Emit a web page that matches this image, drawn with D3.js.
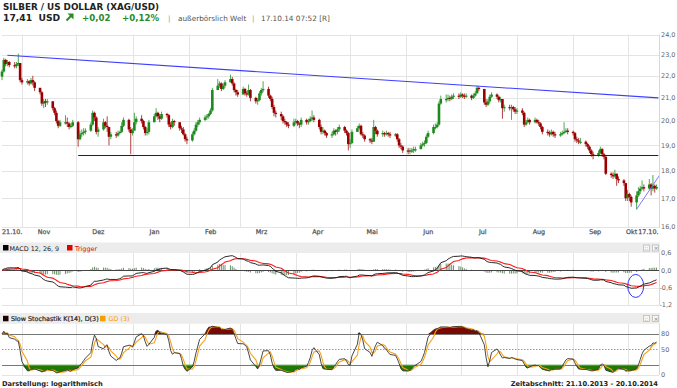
<!DOCTYPE html>
<html><head><meta charset="utf-8">
<script src="https://cdn.jsdelivr.net/npm/d3@7"></script>
<style>
body{margin:0;background:#fff;}
svg{display:block;font-family:"DejaVu Sans",Verdana,sans-serif;}
</style>
</head><body>
<svg id="c" width="677" height="388"></svg>
<script>
// ---------------- DATA ----------------
const title = "SILBER / US DOLLAR (XAG/USD)";
const lastPrice = "17,41", currency = "USD", change = "+0,02", changePct = "+0,12%";
const venue = "außerbörslich Welt", stamp = "17.10.14 07:52 [R]";
const firstOpen = 21.96;
// daily closes, Oct 21 2013 .. Oct 17 2014 (weekdays), one group per week
const closes = [
22.20,22.75,22.55,22.65,22.50, 22.45,22.55,22.60,21.80,21.70, 21.75,21.65,21.80,21.70,21.45, 21.25,20.75,20.85,20.80,20.85,
20.55,20.35,20.00,19.80,19.95, 19.95,19.90,19.75,19.80,19.95, 19.25,19.45,19.50,19.55,19.60, 19.85,20.35,20.15,19.55,19.65,
19.95,19.80,19.75,19.35,19.45, 19.40,19.50,19.55,19.80,20.05, 19.65,19.50,19.60,19.95,20.10, 20.00,19.75,19.50,19.55,19.95,
20.20,20.35,20.20,20.10,20.30, 20.25,19.85,19.75,20.00,19.95, 19.70,19.65,19.45,19.25,19.20, 19.45,19.60,19.85,19.95,20.05,
20.15,20.20,20.30,20.45,21.35, 21.55,21.65,21.40,21.55,21.70, 21.85,21.65,21.35,21.25,21.15, 21.40,21.20,21.15,21.35,21.00,
20.85,20.90,21.20,21.35,21.40, 21.10,20.95,20.60,20.35,20.30, 20.20,20.00,19.95,19.85,19.80, 19.95,20.00,19.90,19.85,20.05,
19.95,20.00,20.10,20.15,20.05, 19.75,19.55,19.60,19.50,19.40, 19.45,19.60,19.55,19.65,19.75, 19.60,19.50,19.05,19.10,19.55,
19.70,19.80,19.45,19.40,19.25, 19.20,19.15,19.75,19.60,19.45, 19.50,19.45,19.50,19.45,19.40, 19.45,19.25,19.00,18.95,18.80,
18.75,18.80,18.80,18.85,18.85, 19.00,19.05,19.10,19.35,19.50, 19.75,19.75,19.85,20.75,20.95, 20.95,21.00,20.95,21.05,21.10,
21.05,21.15,21.10,21.05,21.10, 21.00,21.10,21.20,21.45,21.40, 20.80,20.70,20.85,21.05,21.15, 21.05,20.90,20.95,20.55,20.60,
20.55,20.60,20.50,20.40,20.45, 20.35,19.85,19.95,20.05,19.95, 20.05,19.95,19.90,19.75,19.55, 19.50,19.45,19.55,19.45,19.40,
19.45,19.50,19.55,19.60,19.55, 19.50,19.25,19.20,19.15,19.15, 19.05,18.95,18.80,18.65,18.60, 18.70,18.85,18.65,18.55,17.90,
17.85,17.80,17.90,17.70,17.65, 17.55,17.00,17.15,17.05,16.85, 17.10,17.25,17.35,17.40,17.35, 17.50,17.35,17.45,17.35,17.41
];
const highs = [
22.30,22.85,22.80,22.75,22.70, 22.65,22.65,23.05,22.55,21.90, 21.85,21.80,21.90,22.00,21.75, 21.45,21.30,20.95,20.95,20.95,
20.85,20.60,20.45,20.05,20.05, 20.25,20.15,19.95,19.90,20.05, 20.00,19.60,19.65,19.70,19.70, 19.95,20.45,20.40,20.20,19.75,
20.10,20.00,20.20,19.75,19.55, 19.55,19.60,19.60,19.95,20.15, 20.10,19.75,19.70,20.35,20.20, 20.25,20.05,19.80,19.70,20.05,
20.30,20.55,20.40,20.30,20.40, 20.35,20.30,19.95,20.10,20.05, 19.95,19.80,19.75,19.50,19.35, 19.55,19.70,19.95,20.05,20.15,
20.25,20.30,20.35,20.55,21.45, 21.85,21.75,21.70,21.65,21.80, 22.05,21.95,21.70,21.40,21.35, 21.50,21.45,21.30,21.60,21.40,
21.05,21.00,21.30,21.45,21.75, 21.50,21.15,21.05,20.70,20.45, 20.40,20.25,20.10,20.00,19.95, 20.10,20.10,20.05,19.95,20.15,
20.10,20.10,20.20,20.45,20.25, 20.10,19.85,19.75,19.65,19.55, 19.55,19.70,19.65,19.75,19.85, 19.80,19.65,19.55,19.25,19.65,
19.80,19.90,19.85,19.55,19.45, 19.30,19.30,20.05,19.80,19.65, 19.60,19.55,19.60,19.55,19.55, 19.50,19.50,19.30,19.10,19.00,
18.90,18.90,18.90,18.95,18.95, 19.10,19.15,19.20,19.45,19.60, 19.85,19.90,19.95,20.85,21.10, 21.15,21.15,21.10,21.15,21.20,
21.20,21.25,21.20,21.20,21.20, 21.15,21.20,21.30,21.55,21.50, 21.40,20.95,20.95,21.15,21.25, 21.20,21.10,21.05,20.95,20.70,
20.70,20.70,20.65,20.60,20.55, 20.55,20.40,20.05,20.15,20.10, 20.15,20.10,20.05,19.95,19.80, 19.65,19.60,19.65,19.60,19.55,
19.55,19.60,19.95,19.70,19.70, 19.60,19.55,19.35,19.30,19.30, 19.20,19.10,19.00,18.85,18.75, 18.80,18.95,18.90,18.70,18.60,
17.95,17.95,18.05,17.90,17.80, 17.70,17.55,17.30,17.20,17.10, 17.25,17.40,17.45,17.65,17.50, 17.70,17.55,17.85,17.50,17.50
];
const lows = [
21.80,22.15,22.45,22.45,22.40, 22.35,22.35,22.45,21.70,21.60, 21.60,21.55,21.60,21.55,21.30, 21.15,20.65,20.55,20.60,20.70,
20.45,20.25,19.90,19.70,19.75, 19.85,19.75,19.65,19.70,19.75, 18.95,19.20,19.35,19.40,19.45, 19.55,19.80,20.00,19.45,19.35,
19.60,19.70,19.55,19.00,19.25, 19.30,19.35,19.45,19.50,19.75, 19.55,18.65,19.40,19.60,19.85, 19.90,19.65,19.40,19.40,19.45,
19.95,20.15,20.05,19.95,20.05, 20.15,19.75,19.65,19.70,19.80, 19.60,19.50,19.40,19.15,19.05, 19.15,19.40,19.55,19.75,19.85,
20.00,20.05,20.10,20.25,20.40, 21.35,21.45,21.30,21.35,21.45, 21.70,21.55,21.25,21.10,21.05, 21.15,21.10,21.05,21.10,20.85,
20.75,20.70,20.85,21.10,21.25, 21.00,20.85,20.50,20.20,20.15, 20.05,19.90,19.85,19.75,19.70, 19.75,19.85,19.80,19.70,19.75,
19.85,19.85,19.95,20.00,19.95, 19.65,19.45,19.45,19.40,19.30, 19.30,19.40,19.40,19.45,19.55, 19.50,19.40,18.80,18.90,19.05,
19.55,19.65,19.40,19.30,19.15, 19.10,19.05,19.15,19.45,19.35, 19.35,19.35,19.40,19.35,19.30, 19.35,19.15,18.90,18.85,18.70,
18.65,18.65,18.70,18.70,18.75, 18.85,18.95,18.95,19.05,19.30, 19.45,19.65,19.70,19.80,20.70, 20.80,20.85,20.85,20.90,20.95,
20.95,21.00,21.00,20.95,21.00, 20.90,20.95,21.05,21.20,21.30, 20.70,20.60,20.65,20.75,21.00, 20.95,20.80,20.80,20.10,20.40,
20.45,20.05,20.40,20.30,20.30, 20.25,19.75,19.80,19.90,19.85, 19.90,19.90,19.80,19.65,19.45, 19.40,19.35,19.40,19.35,19.30,
19.35,19.40,19.45,19.50,19.45, 19.40,19.15,19.10,19.05,19.05, 18.95,18.85,18.70,18.55,18.45, 18.55,18.65,18.55,18.45,17.85,
17.75,17.70,17.75,17.45,17.55, 17.45,16.90,16.90,16.90,16.70, 16.60,17.05,17.15,17.30,17.25, 17.30,17.10,17.25,17.20,17.30
];
const priceTicks = [16,17,18,19,20,21,22,23,24];
const macdTicks = [0.6,0,-0.6,-1.2];
const stochTicks = [80,50,0];
const monthLabels = ["Nov","Dez","Jan","Feb","Mrz","Apr","Mai","Jun","Jul","Aug","Sep","Okt"];
const startLabel = "21.10.", endLabel = "17.10.";
// annotation lines in data coordinates [date, price]
const resistance = [[new Date(2013,9,24), 22.97],[new Date(2014,9,18), 21.0]];
const support = [[new Date(2013,11,2), 18.6],[new Date(2014,9,18), 18.6]];
const upTrend = [[new Date(2014,9,6), 16.61],[new Date(2014,9,19), 17.88]];
const macdCircle = {date:new Date(2014,9,5,12), value:-0.54};

// ---------------- LAYOUT ----------------
const svg = d3.select("#c");
const PL = 2, PR = 659;
const dates = d3.timeDay.range(new Date(2013,9,21), new Date(2014,9,18)).filter(d => d.getDay()>0 && d.getDay()<6);
const x = d3.scaleTime().domain([new Date(2013,9,21), new Date(2014,9,20)]).range([2, 662]);
const y = d3.scaleLog().domain([16,24]).range([227, 34.5]);
const yM = d3.scaleLinear().domain([-1.2,0.6]).range([305,253]);
const yS = d3.scaleLinear().domain([0,100]).range([375,323.75]);
const grid = "#e4e4e4", upC = "#1d8a1d", dnC = "#9b0000", axC = "#666";
const months = d3.timeMonth.range(new Date(2013,10,1), new Date(2014,10,1));

const defs = svg.append("defs");
defs.append("clipPath").attr("id","clipMain").append("rect").attr("x",0).attr("y",34).attr("width",PR).attr("height",194);
defs.append("clipPath").attr("id","clipM").append("rect").attr("x",0).attr("y",253).attr("width",PR).attr("height",53);
defs.append("clipPath").attr("id","clipS").append("rect").attr("x",0).attr("y",323).attr("width",PR).attr("height",53);

// ---------------- HEADER ----------------
svg.append("text").attr("x",3).attr("y",9.5).attr("font-size",8.8).attr("font-weight","bold").attr("fill","#222").text(title);
svg.append("text").attr("x",3).attr("y",21).attr("font-size",9.2).attr("font-weight","bold").attr("fill","#222")
  .attr("xml:space","preserve").text(lastPrice + "  " + currency);
const g1 = svg.append("g").attr("fill","#2a8a2a").attr("font-size",8.6).attr("font-weight","bold");
svg.append("path").attr("d","M66.5,20.5 L71,16").attr("stroke","#2a8a2a").attr("stroke-width",2);
svg.append("path").attr("d","M67.5,13.5 L73.5,13.5 L73.5,19.5 Z").attr("fill","#2a8a2a");
g1.append("text").attr("x",82).attr("y",21).text(change);
g1.append("text").attr("x",122).attr("y",21).text(changePct);
const g2 = svg.append("g").attr("fill","#555").attr("font-size",7.3);
g2.append("text").attr("x",168).attr("y",20.5).attr("fill","#999").text("|");
g2.append("text").attr("x",178).attr("y",20.5).text(venue);
g2.append("text").attr("x",252).attr("y",20.5).attr("fill","#999").text("|");
g2.append("text").attr("x",261).attr("y",20.5).text(stamp);

// ---------------- GRIDS ----------------
const gg = svg.append("g");
[[34.5,228],[253,305],[323.75,375]].forEach(([t,b]) => {
  gg.selectAll(null).data(months).enter().append("line")
    .attr("x1",d=>Math.round(x(d))+0.5).attr("x2",d=>Math.round(x(d))+0.5).attr("y1",t).attr("y2",b)
    .attr("stroke",grid);
  gg.append("line").attr("x1",PR+0.5).attr("x2",PR+0.5).attr("y1",t).attr("y2",b).attr("stroke","#d8d8d8");
});
gg.selectAll(null).data(priceTicks).enter().append("line")
  .attr("x1",PL).attr("x2",PR).attr("y1",d=>Math.round(y(d))+0.5).attr("y2",d=>Math.round(y(d))+0.5).attr("stroke",grid);

// ---------------- CANDLES ----------------
const opens = closes.map((c,i)=> i===0 ? firstOpen : closes[i-1]);
const cg = svg.append("g").attr("clip-path","url(#clipMain)");
const candles = cg.selectAll(null).data(dates).enter().append("g");
candles.append("line")
  .attr("x1",d=>x(d)).attr("x2",d=>x(d))
  .attr("y1",(d,i)=>y(highs[i])).attr("y2",(d,i)=>y(lows[i]))
  .attr("stroke",(d,i)=>closes[i]>=opens[i]?upC:dnC).attr("stroke-width",1).attr("opacity",0.75);
candles.append("rect")
  .attr("x",d=>x(d)-1.3).attr("width",2.6)
  .attr("y",(d,i)=>y(Math.max(opens[i],closes[i])))
  .attr("height",(d,i)=>Math.max(1.2,Math.abs(y(opens[i])-y(closes[i]))))
  .attr("fill",(d,i)=>closes[i]>=opens[i]?upC:dnC);

const lineP = d3.line().x(d=>x(d[0])).y(d=>y(d[1]));
cg.append("path").attr("d",lineP(resistance)).attr("stroke","#3d3dff").attr("stroke-width",1.1).attr("fill","none");
cg.append("path").attr("d",lineP(support)).attr("stroke","#14148f").attr("stroke-width",1).attr("fill","none");
cg.append("path").attr("d",lineP(upTrend)).attr("stroke","#6b6bff").attr("stroke-width",0.9).attr("fill","none");

// price axis labels
svg.append("g").selectAll(null).data(priceTicks).enter().append("text")
  .attr("x",661).attr("y",d=>y(d)+2.3).attr("font-size",6.5).attr("fill",axC)
  .text(d=>d3.format(".1f")(d).replace(".",","));

// x labels
const xl = svg.append("g").attr("font-size",6.4).attr("fill","#555").attr("stroke","#555").attr("stroke-width",0.25);
xl.selectAll(null).data(months).enter().append("text")
  .attr("x",(d,i)=> i===months.length-1 ? x(d)-1.5 : x(d)+22)
  .attr("text-anchor",(d,i)=> i===months.length-1 ? "start" : "middle")
  .attr("y",234).text((d,i)=>monthLabels[i]);
xl.append("text").attr("x",2).attr("y",234).text(startLabel);
xl.append("text").attr("x",658.5).attr("y",234).attr("text-anchor","end").text(endLabel);

// ---------------- PANEL HEADERS ----------------
function panelHeader(top, h) {
  svg.append("rect").attr("x",0).attr("y",top).attr("width",PR+1).attr("height",h).attr("fill","#ececec");
  [643,652].forEach(px=>{
    svg.append("rect").attr("x",px+0.5).attr("y",top+2.5).attr("width",6).attr("height",6)
      .attr("fill","#f6f6f6").attr("stroke","#bbb").attr("stroke-width",0.8);
  });
  svg.append("text").attr("x",644.6).attr("y",top+7.6).attr("font-size",5).attr("fill","#666").text("::");
  svg.append("text").attr("x",653.7).attr("y",top+7.6).attr("font-size",5.5).attr("fill","#666").text("×");
}
panelHeader(242.5, 10.5);
panelHeader(313, 10.75);

svg.append("rect").attr("x",3).attr("y",245).attr("width",5.5).attr("height",5.5).attr("fill","#000");
svg.append("text").attr("x",9.5).attr("y",250.5).attr("font-size",6.4).attr("fill","#222").text("MACD 12, 26, 9");
svg.append("rect").attr("x",67).attr("y",245).attr("width",5.5).attr("height",5.5).attr("fill","#e00000");
svg.append("text").attr("x",75).attr("y",250.5).attr("font-size",6.4).attr("fill","#e00000").text("Trigger");

svg.append("rect").attr("x",3).attr("y",315.8).attr("width",5.5).attr("height",5.5).attr("fill","#1a0000");
svg.append("text").attr("x",11).attr("y",321.2).attr("font-size",6.4).attr("fill","#222")
  .attr("stroke","#222").attr("stroke-width",0.2).text("Slow Stochastik K(14), D(3)");
svg.append("rect").attr("x",100).attr("y",315.8).attr("width",5.5).attr("height",5.5).attr("fill","#f5a000");
svg.append("text").attr("x",108.5).attr("y",321.2).attr("font-size",6.4).attr("fill","#f5a000").text("GD (3)");

// ---------------- MACD ----------------
function ema(v,n){const a=2/(n+1);const o=[];v.forEach((c,i)=>o.push(i?a*c+(1-a)*o[i-1]:c));return o;}
const e12 = ema(closes,12), e26 = ema(closes,26);
const macd = e12.map((v,i)=>v-e26[i]);
const trig = ema(macd,9);
const mg = svg.append("g").attr("clip-path","url(#clipM)");
[-0.6,-1.2].forEach(v=> mg.append("line").attr("x1",PL).attr("x2",PR)
  .attr("y1",Math.round(yM(v))+0.5).attr("y2",Math.round(yM(v))+0.5).attr("stroke",grid));
mg.selectAll(null).data(dates).enter().append("line")
  .attr("x1",d=>x(d)).attr("x2",d=>x(d)).attr("y1",yM(0)).attr("y2",(d,i)=>yM(macd[i]-trig[i]))
  .attr("stroke","#5c845c").attr("stroke-width",0.9);
mg.append("line").attr("x1",PL).attr("x2",PR).attr("y1",Math.round(yM(0))+0.5).attr("y2",Math.round(yM(0))+0.5).attr("stroke","#444");
const lm = d3.line().x((d,i)=>x(dates[i])).y(d=>yM(d));
mg.append("path").attr("d",lm(trig)).attr("stroke","#ff1a1a").attr("stroke-width",1.1).attr("fill","none");
mg.append("path").attr("d",lm(macd)).attr("stroke","#111").attr("stroke-width",0.9).attr("fill","none");
svg.append("ellipse").attr("cx",x(macdCircle.date)).attr("cy",yM(macdCircle.value)).attr("rx",8).attr("ry",11.5)
  .attr("fill","none").attr("stroke","#3333ff").attr("stroke-width",1);
svg.append("g").selectAll(null).data(macdTicks).enter().append("text")
  .attr("x",d=>d<0?659.5:661).attr("y",d=>yM(d)+2.3).attr("font-size",6.5).attr("fill",axC)
  .text(d=>d3.format(".1f")(d).replace(".",",").replace("−","-"));

// ---------------- STOCHASTIC ----------------
const fastK = closes.map((c,i)=>{
  const s=Math.max(0,i-13);
  const hh=d3.max(highs.slice(s,i+1)), ll=d3.min(lows.slice(s,i+1));
  return hh>ll?100*(c-ll)/(hh-ll):50;
});
const sma=(v,n)=>v.map((_,i)=>d3.mean(v.slice(Math.max(0,i-n+1),i+1)));
const slowK = sma(fastK,3), slowD = sma(slowK,3);
const sg = svg.append("g").attr("clip-path","url(#clipS)");
sg.append("line").attr("x1",PL).attr("x2",PR).attr("y1",375.5).attr("y2",375.5).attr("stroke",grid);
sg.append("path").attr("d",d3.area().x((d,i)=>x(dates[i])).y0(yS(80)).y1(d=>yS(Math.max(80,d)))(slowK)).attr("fill","#7a0a00");
sg.append("path").attr("d",d3.area().x((d,i)=>x(dates[i])).y0(yS(20)).y1(d=>yS(Math.min(20,d)))(slowK)).attr("fill","#1f7a00");
[80,20].forEach(v=>sg.append("line").attr("x1",PL).attr("x2",PR)
  .attr("y1",Math.round(yS(v))+0.5).attr("y2",Math.round(yS(v))+0.5).attr("stroke","#777"));
sg.append("line").attr("x1",PL).attr("x2",PR).attr("y1",Math.round(yS(50))+0.5).attr("y2",Math.round(yS(50))+0.5)
  .attr("stroke","#999").attr("stroke-dasharray","1.5,1.5");
const ls = d3.line().x((d,i)=>x(dates[i])).y(d=>yS(d));
sg.append("path").attr("d",ls(slowD)).attr("stroke","#f7a21b").attr("stroke-width",1.1).attr("fill","none");
sg.append("path").attr("d",ls(slowK)).attr("stroke","#333").attr("stroke-width",0.9).attr("fill","none");
svg.append("g").selectAll(null).data(stochTicks).enter().append("text")
  .attr("x",661).attr("y",d=>yS(d)+2.3).attr("font-size",6.5).attr("fill",axC).text(d=>d);

// ---------------- FOOTER ----------------
svg.append("text").attr("x",2).attr("y",386).attr("font-size",6.7).attr("font-weight","bold").attr("fill","#222").text("Darstellung: logarithmisch");
svg.append("text").attr("x",658).attr("y",385.5).attr("text-anchor","end").attr("font-size",6.7).attr("font-weight","bold").attr("fill","#222").text("Zeitabschnitt: 21.10.2013 - 20.10.2014");
</script>
</body></html>
